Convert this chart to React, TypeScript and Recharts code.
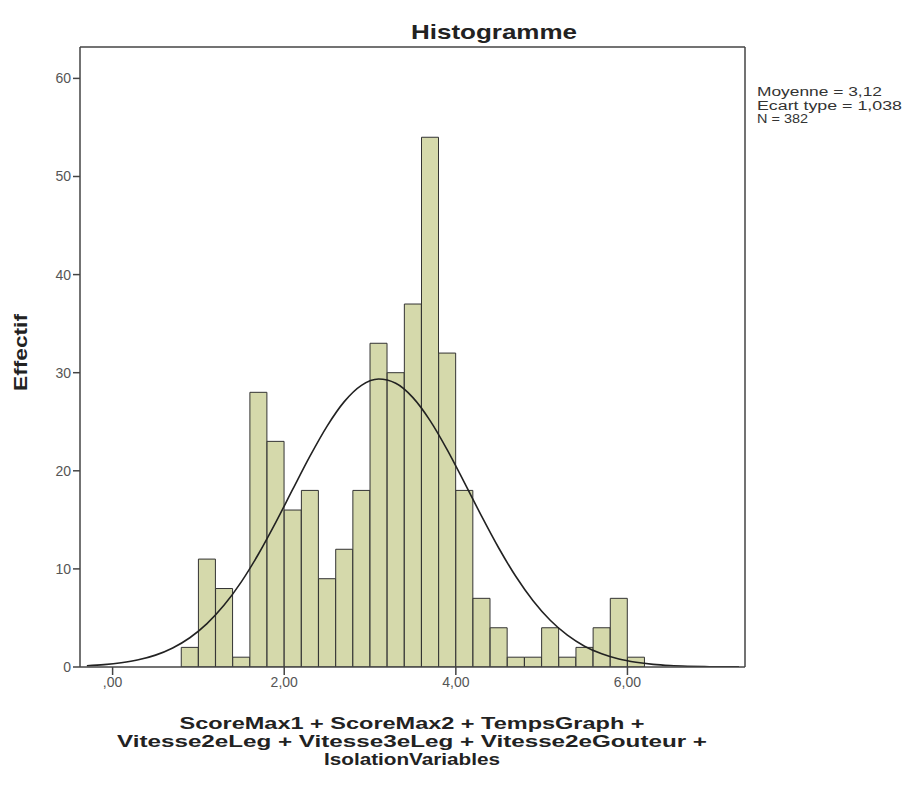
import React from 'react';
import { ComposedChart, Bar, Line, XAxis, YAxis, ReferenceLine } from 'recharts';

// Histogram bins (centres, width 0,20) and counts
const binCenters = [0.9, 1.1, 1.3, 1.5, 1.7, 1.9, 2.1, 2.3, 2.5, 2.7, 2.9, 3.1, 3.3, 3.5, 3.7, 3.9, 4.1, 4.3, 4.5, 4.7, 4.9, 5.1, 5.3, 5.5, 5.7, 5.9, 6.1];
const counts = [2, 11, 8, 1, 28, 23, 16, 18, 9, 12, 18, 33, 30, 37, 54, 32, 18, 7, 4, 1, 1, 4, 1, 2, 4, 7, 1];

// Fitted normal curve
const curveX = [-0.3, -0.1, 0.1, 0.3, 0.5, 0.7, 0.9, 1.1, 1.3, 1.5, 1.7, 1.9, 2.1, 2.3, 2.5, 2.7, 2.9, 3.1, 3.3, 3.5, 3.7, 3.9, 4.1, 4.3, 4.5, 4.7, 4.9, 5.1, 5.3, 5.5, 5.7, 5.9, 6.1, 6.3, 6.5, 6.7, 6.9, 7.1, 7.3];
const curveY = [0.13, 0.24, 0.43, 0.73, 1.21, 1.94, 2.98, 4.42, 6.31, 8.68, 11.52, 14.72, 18.12, 21.49, 24.56, 27.05, 28.71, 29.35, 28.92, 27.46, 25.12, 22.14, 18.8, 15.38, 12.13, 9.22, 6.75, 4.76, 3.24, 2.12, 1.34, 0.81, 0.48, 0.27, 0.15, 0.08, 0.04, 0.02, 0.01];

const xTicks = [0, 2, 4, 6];
const yTicks = [0, 10, 20, 30, 40, 50, 60];
const xDomain: [number, number] = [-0.38, 7.37];
const yDomain: [number, number] = [0, 63.2];

const title = 'Histogramme';
const yLabel = 'Effectif';
const xLabelLines = [
  'ScoreMax1 + ScoreMax2 + TempsGraph +',
  'Vitesse2eLeg + Vitesse3eLeg + Vitesse2eGouteur +',
  'IsolationVariables',
];
const xLabelWidths = [465, 590, 176];
const statsLines = ['Moyenne = 3,12', 'Ecart type = 1,038', 'N = 382'];
const statsWidths = [125, 145, 51];

const data = curveX.map((x, i) => {
  const idx = binCenters.findIndex((c) => Math.abs(c - x) < 1e-6);
  return { x, count: idx >= 0 ? counts[idx] : null, fit: curveY[i] };
});

const fmt = (v: number) => (v === 0 ? ',00' : `${v},00`);

const FONT = '"Liberation Sans", Arial, sans-serif';
const AXIS = '#444';

export default function App() {
  return (
    <div style={{ position: 'absolute', left: 0, top: 0, width: 903, height: 789, background: '#fff' }}>
      <ComposedChart
        width={903}
        height={789}
        data={data}
        margin={{ top: 47, right: 158, bottom: 92, left: 40 }}
        barCategoryGap={0}
        barGap={0}
      >
        <XAxis
          dataKey="x"
          type="number"
          domain={xDomain}
          allowDataOverflow
          ticks={xTicks}
          tickFormatter={fmt}
          height={30}
          tickSize={8}
          axisLine={{ stroke: AXIS, strokeWidth: 1.5 }}
          tickLine={{ stroke: AXIS, strokeWidth: 1.5 }}
          tick={{ fill: '#555', fontSize: 14, fontFamily: FONT }}
        />
        <YAxis
          type="number"
          domain={yDomain}
          allowDataOverflow
          ticks={yTicks}
          width={40}
          tickSize={7}
          axisLine={{ stroke: AXIS, strokeWidth: 1.5 }}
          tickLine={{ stroke: AXIS, strokeWidth: 1.5 }}
          tick={{ fill: '#555', fontSize: 14, fontFamily: FONT }}
        />
        <Bar dataKey="count" fill="#d5d9ab" stroke="#333" strokeWidth={1} isAnimationActive={false} />
        <Line
          dataKey="fit"
          type="monotone"
          stroke="#222"
          strokeWidth={1.6}
          dot={false}
          activeDot={false}
          isAnimationActive={false}
        />
        <ReferenceLine y={yDomain[1]} stroke={AXIS} strokeWidth={1.5} ifOverflow="visible" />
        <ReferenceLine x={xDomain[1]} stroke={AXIS} strokeWidth={1.5} ifOverflow="visible" />
      </ComposedChart>
      <svg
        width={903}
        height={789}
        style={{ position: 'absolute', left: 0, top: 0, pointerEvents: 'none' }}
      >
        <text
          x={411}
          y={39}
          textLength={166}
          lengthAdjust="spacingAndGlyphs"
          fontFamily={FONT}
          fontWeight="bold"
          fontSize={21}
          fill="#222"
        >
          {title}
        </text>
        <text
          x={0}
          y={0}
          transform="translate(27,391) rotate(-90)"
          textLength={77}
          lengthAdjust="spacingAndGlyphs"
          fontFamily={FONT}
          fontWeight="bold"
          fontSize={18}
          fill="#222"
        >
          {yLabel}
        </text>
        {xLabelLines.map((t, i) => (
          <text
            key={t}
            x={412 - xLabelWidths[i] / 2}
            y={729 + i * 18}
            textLength={xLabelWidths[i]}
            lengthAdjust="spacingAndGlyphs"
            fontFamily={FONT}
            fontWeight="bold"
            fontSize={16}
            fill="#222"
          >
            {t}
          </text>
        ))}
        {statsLines.map((t, i) => (
          <text
            key={t}
            x={757}
            y={96 + i * 13.5}
            textLength={statsWidths[i]}
            lengthAdjust="spacingAndGlyphs"
            fontFamily={FONT}
            fontSize={12.5}
            fill="#333"
          >
            {t}
          </text>
        ))}
      </svg>
    </div>
  );
}
